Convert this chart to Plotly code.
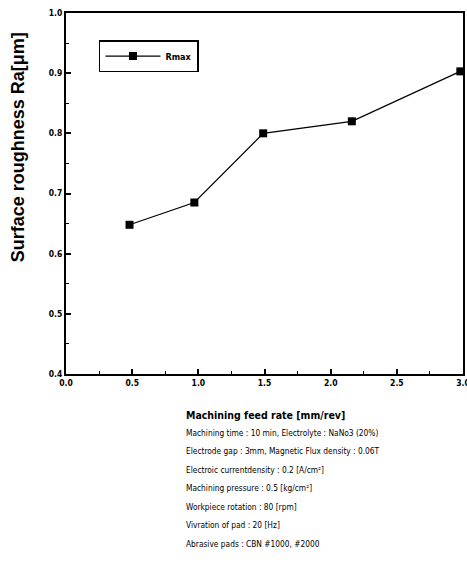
import plotly.graph_objects as go

feed_rate = [0.48, 0.97, 1.49, 2.16, 2.98]
rmax = [0.648, 0.685, 0.800, 0.820, 0.903]
series_name = "Rmax"
x_ticks = [0.0, 0.5, 1.0, 1.5, 2.0, 2.5, 3.0]
x_tick_labels = ["0.0", "0.5", "1.0", "1.5", "2.0", "2.5", "3.0"]
y_ticks = [0.4, 0.5, 0.6, 0.7, 0.8, 0.9, 1.0]
y_tick_labels = ["0.4", "0.5", "0.6", "0.7", "0.8", "0.9", "1.0"]
x_title = "Machining feed rate [mm/rev]"
y_title = "Surface roughness Ra[μm]"
conditions = [
    "Machining time : 10 min, Electrolyte : NaNo3 (20%)",
    "Electrode gap : 3mm, Magnetic Flux density : 0.06T",
    "Electroic currentdensity : 0.2 [A/cm²]",
    "Machining pressure : 0.5 [kg/cm²]",
    "Workpiece rotation : 80 [rpm]",
    "Vivration of pad : 20 [Hz]",
    "Abrasive pads : CBN #1000, #2000",
]

NARROW = "DejaVu Sans Condensed, Liberation Sans, Arial, sans-serif"

fig = go.Figure()
fig.add_trace(go.Scatter(
    x=feed_rate, y=rmax, name=series_name, mode="lines+markers",
    line=dict(color="black", width=1.2),
    marker=dict(symbol="square", size=8, color="black"),
    cliponaxis=False,
))

fig.update_layout(
    width=467, height=572,
    margin=dict(l=66, r=4, t=13, b=198, autoexpand=False),
    paper_bgcolor="white", plot_bgcolor="white",
    showlegend=True,
    legend=dict(
        x=0.083, y=0.925, xanchor="left", yanchor="top",
        bordercolor="black", borderwidth=1.5, bgcolor="white",
        font=dict(family=NARROW, size=9, color="black", weight="bold"),
        itemwidth=55, tracegroupgap=0,
    ),
    font=dict(family=NARROW, color="black"),
)

fig.update_xaxes(
    range=[0, 3], tickvals=x_ticks, ticktext=x_tick_labels,
    ticks="inside", ticklen=5, tickwidth=1.5, tickcolor="black",
    minor=dict(dtick=0.25, ticks="inside", ticklen=3, tickwidth=1.2, tickcolor="black"),
    showline=True, linecolor="black", linewidth=2, mirror=True,
    showgrid=False, zeroline=False, ticklabeloverflow="allow",
    tickfont=dict(family=NARROW, size=8.5, color="black", weight="bold"),
)
fig.update_yaxes(
    range=[0.4, 1.0], tickvals=y_ticks, ticktext=y_tick_labels,
    ticks="inside", ticklen=5, tickwidth=1.5, tickcolor="black",
    minor=dict(dtick=0.05, ticks="inside", ticklen=3, tickwidth=1.2, tickcolor="black"),
    showline=True, linecolor="black", linewidth=2, mirror=True,
    showgrid=False, zeroline=False, ticklabeloverflow="allow",
    tickfont=dict(family=NARROW, size=8.5, color="black", weight="bold"),
)

fig.add_annotation(
    text="<b>" + y_title + "</b>", xref="paper", yref="paper",
    x=-0.121, y=0.628, xanchor="center", yanchor="middle", textangle=-90,
    showarrow=False, font=dict(family="Liberation Sans, Arial, sans-serif", size=18, color="black"),
)
fig.add_annotation(
    text="<b>" + x_title + "</b>", xref="paper", yref="paper",
    x=0.298, y=-0.114, xanchor="left", yanchor="middle",
    showarrow=False, font=dict(family=NARROW, size=10.5, color="black"),
)
for i, line in enumerate(conditions):
    fig.add_annotation(
        text=line, xref="paper", yref="paper",
        x=0.298, y=-0.163 - i * 0.0513, xanchor="left", yanchor="middle",
        showarrow=False, font=dict(family=NARROW, size=8.3, color="black"),
    )

fig.write_html(
    "out.html",
    config={"displayModeBar": False},
    post_script="document.body.style.margin='0';document.body.style.overflow='hidden';",
)
